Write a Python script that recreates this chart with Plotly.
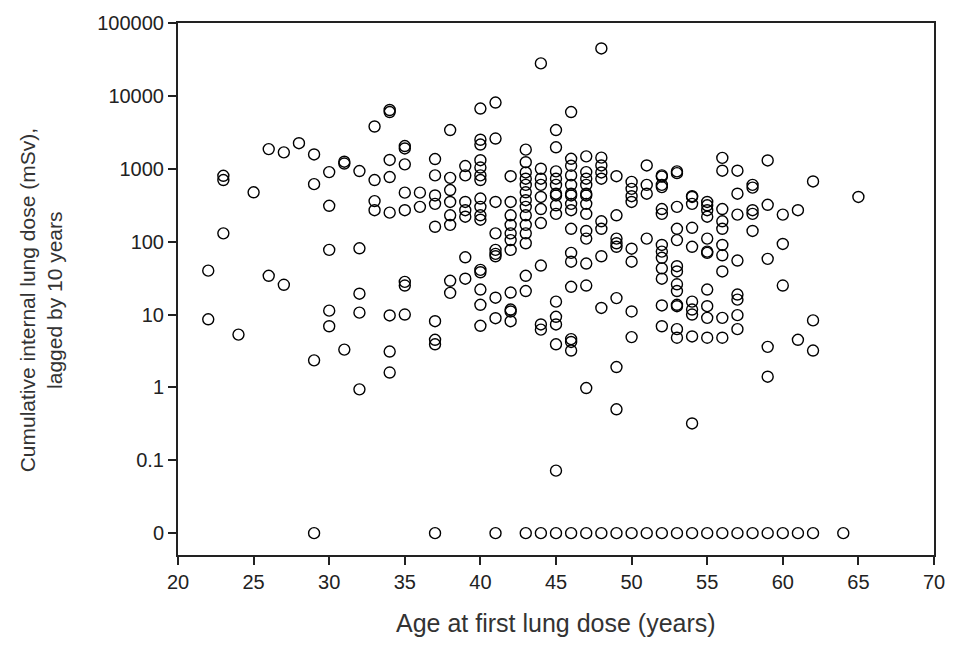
import plotly.graph_objects as go

# Age at first lung dose (years), one entry per worker
age = (
    [22, 22] + [23, 23, 23] + [24] + [25] + [26, 26] + [27, 27] + [28]
    + [29] * 4 + [30] * 5 + [31] * 3 + [32] * 5 + [33] * 4 + [34] * 8 + [35] * 8
    + [36] * 2 + [37] * 9 + [38] * 8 + [39] * 7 + [40] * 16 + [41] * 10 + [42] * 11
    + [43] * 15 + [44] * 11 + [45] * 15 + [46] * 17 + [47] * 14 + [48] * 10 + [49] * 9
    + [50] * 9 + [51] * 5 + [52] * 14 + [53] * 14 + [54] * 11 + [55] * 12 + [56] * 11
    + [57] * 9 + [58] * 6 + [59] * 6 + [60] * 4 + [61] * 3 + [62] * 4 + [64] + [65]
)

# Cumulative internal lung dose (mSv), lagged by 10 years, in the same order
dose = [
    40, 8.6, 800, 700, 130, 5.3, 475, 1860, 34, 1680, 25.6, 2240,
    1570, 615, 2.35, 0,
    900, 310, 77, 11.3, 6.9,
    1250, 1180, 3.3,
    930, 81, 19.3, 10.6, 0.94,
    3800, 700, 360, 270,
    6400, 6000, 1320, 770, 250, 9.7, 3.1, 1.6,
    2050, 1900, 1150, 470, 270, 28, 25, 10,
    470, 300,
    1360, 810, 430, 330, 160, 8.1, 4.5, 3.9, 0,
    3400, 750, 510, 350, 230, 170, 29, 19.8,
    1090, 810, 350, 270, 220, 61, 31,
    6700, 2500, 2150, 1310, 1040, 810, 700, 390, 300, 230, 200, 41, 38, 22, 13.6, 7,
    8100, 2600, 350, 130, 77, 68, 63, 17, 8.9, 0,
    790, 350, 230, 170, 130, 105, 77, 20, 11.7, 11, 8.1,
    1830, 1230, 890, 730, 600, 475, 370, 300, 230, 170, 130, 95, 34, 21, 0,
    27900, 1000, 730, 600, 410, 280, 180, 47, 7.3, 6.2, 0,
    3400, 1970, 920, 730, 600, 455, 430, 315, 240, 15, 9.3, 7.3, 3.9, 0.072, 0,
    6000, 1370, 1100, 810, 600, 455, 430, 330, 270, 150, 70, 53, 24, 4.6, 4.2, 3.2, 0,
    1480, 900, 730, 600, 455, 430, 330, 240, 140, 110, 50, 25, 0.98, 0,
    44700, 1420, 1110, 890, 730, 190, 150, 63, 12.3, 0,
    790, 230, 110, 95, 85, 16.8, 1.9, 0.5, 0,
    660, 530, 420, 350, 80, 53, 11, 4.9, 0,
    1110, 600, 455, 110, 0,
    810, 780, 600, 560, 280, 240, 90, 73, 60, 43, 31, 13.3, 6.9, 0,
    920, 870, 300, 150, 105, 46, 39, 26, 21, 13.6, 13, 6.3, 4.8, 0,
    420, 410, 330, 155, 85, 15, 11.7, 10, 5, 0.32, 0,
    350, 315, 270, 220, 110, 73, 70, 22, 13, 9, 4.8, 0,
    1410, 940, 280, 190, 150, 90, 65, 39, 9, 4.8, 0,
    940, 455, 235, 55, 18.8, 16, 9.8, 6.3, 0,
    600, 550, 270, 240, 140, 0,
    1300, 320, 58, 3.6, 1.4, 0,
    235, 93, 25, 0,
    270, 4.5, 0,
    670, 8.3, 3.2, 0,
    0,
    410,
]

y_tick_vals = [0.01, 0.1, 1, 10, 100, 1000, 10000, 100000]
y_tick_text = ["0", "0.1", "1", "10", "100", "1000", "10000", "100000"]
x_tick_vals = [20, 25, 30, 35, 40, 45, 50, 55, 60, 65, 70]
ZERO_AT = 0.01  # zero doses are drawn on the "0" tick of the log axis

n = min(len(age), len(dose))
xs = age[:n]
ys = [d if d > 0 else ZERO_AT for d in dose[:n]]

font = "Liberation Sans, Arial, sans-serif"

fig = go.Figure(
    go.Scatter(
        x=xs, y=ys, mode="markers",
        marker=dict(symbol="circle-open", size=11, color="black",
                    line=dict(width=1.4, color="black")),
        showlegend=False,
    )
)

fig.update_layout(
    width=957, height=646,
    margin=dict(l=178, r=14, t=20, b=91),
    paper_bgcolor="white", plot_bgcolor="white",
    font=dict(family=font, size=20, color="#222"),
    annotations=[
        dict(text="Cumulative internal lung dose (mSv),<br>lagged by 10 years",
             xref="paper", yref="paper", x=-0.181, y=0.479, textangle=-90,
             showarrow=False, xanchor="center", yanchor="middle",
             font=dict(family=font, size=21, color="#333")),
        dict(text="Age at first lung dose (years)",
             xref="paper", yref="paper", x=0.5, y=-0.127,
             showarrow=False, xanchor="center", yanchor="middle",
             font=dict(family=font, size=25, color="#333")),
    ],
)

fig.update_xaxes(
    range=[20, 70], tickvals=x_tick_vals, ticks="outside", ticklen=8, tickwidth=1.5,
    tickcolor="#222", showline=True, linecolor="#222", linewidth=2, mirror=True,
    showgrid=False, zeroline=False, tickfont=dict(size=20, color="#222"),
)
fig.update_yaxes(
    type="log", range=[-2.30, 5], tickvals=y_tick_vals, ticktext=y_tick_text,
    ticks="outside", ticklen=8, tickwidth=1.5, tickcolor="#222",
    showline=True, linecolor="#222", linewidth=2, mirror=True,
    showgrid=False, zeroline=False, tickfont=dict(size=20, color="#222"),
)

fig.write_html(
    "out.html",
    config={"displayModeBar": False},
    post_script="document.body.style.margin='0';document.body.style.overflow='hidden';",
)
